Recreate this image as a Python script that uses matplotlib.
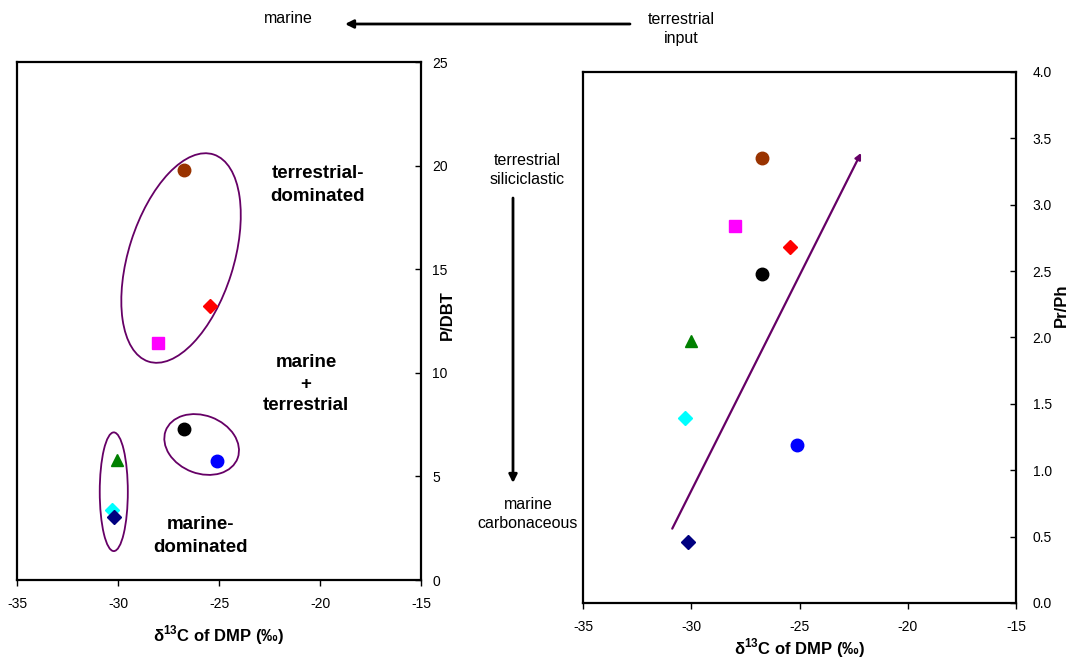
import matplotlib
matplotlib.use('Agg')
import matplotlib.pyplot as plt
from matplotlib.patches import Ellipse, FancyArrowPatch

plt.rcParams['font.family'] = ['Liberation Sans', 'DejaVu Sans']
plt.rcParams['axes.unicode_minus'] = False
plt.rcParams['mathtext.fontset'] = 'custom'
plt.rcParams['mathtext.rm'] = 'Liberation Sans:bold'
plt.rcParams['mathtext.bf'] = 'Liberation Sans:bold'

# samples: colour / marker, same order in both panels
colors = ['#993300', '#FF0000', '#FF00FF', '#000000', '#0000FF', '#008000', '#00FFFF', '#000080']
markers = ['o', 'D', 's', 'o', 'o', '^', 'D', 'D']
d13c_left = [-26.73, -25.45, -28.02, -26.72, -25.10, -30.03, -30.28, -30.18]
p_dbt = [19.79, 13.22, 11.44, 7.30, 5.73, 5.79, 3.36, 3.06]
d13c_right = [-26.73, -25.44, -27.98, -26.73, -25.12, -30.01, -30.29, -30.17]
pr_ph = [3.35, 2.68, 2.84, 2.48, 1.19, 1.97, 1.39, 0.46]

# grouping ellipses on left panel: centre x, centre y, width, height, angle
ell_cx = [-26.88, -25.86, -30.21]
ell_cy = [15.54, 6.54, 4.26]
ell_w = [10.5, 3.8, 1.39]
ell_h = [5.2, 2.8, 5.73]
ell_ang = [72, -20, 0]

# trend arrow on right panel
trend_x = [-30.88, -22.16]
trend_y = [0.56, 3.39]

purple = '#660066'

fig = plt.figure(figsize=(10.71, 6.64), dpi=100)
ax1 = fig.add_axes([0.0159, 0.1265, 0.3772, 0.7801])
ax2 = fig.add_axes([0.5444, 0.0919, 0.4043, 0.7997])

for ax in (ax1, ax2):
    ax.set_xlim(-35, -15)
    ax.set_xticks(range(-35, -14, 5))
    ax.yaxis.tick_right()
    ax.tick_params(axis='x', direction='out', length=4, width=1, labelsize=10, pad=8)
    ax.tick_params(axis='y', direction='in', length=4, width=1, labelsize=10)
    for s in ax.spines.values():
        s.set_linewidth(1.6)

# left panel
ax1.set_ylim(0, 25)
ax1.set_yticks(range(0, 26, 5))
ax1.tick_params(axis='y', pad=8)
for i in range(len(p_dbt)):
    ax1.plot(d13c_left[i], p_dbt[i], marker=markers[i], color=colors[i],
             ms=9 if markers[i] != 'D' else 7.5, ls='none', zorder=3)
for i in range(len(ell_cx)):
    ax1.add_patch(Ellipse((ell_cx[i], ell_cy[i]), ell_w[i], ell_h[i], angle=ell_ang[i],
                          fill=False, ec=purple, lw=1.3))
ax1.set_xlabel(r'δ$^{13}$C of DMP (‰)', fontsize=12, fontweight='bold', labelpad=9)
ax1.set_ylabel('P/DBT', fontsize=12, fontweight='bold')
ax1.yaxis.set_label_position('right')
ax1.yaxis.set_label_coords(1.047, 0.512)
ax1.text(0.745, 0.763, 'terrestrial-\ndominated', transform=ax1.transAxes, ha='center',
         va='center', fontsize=13.5, fontweight='bold', linespacing=1.45)
ax1.text(0.715, 0.378, 'marine\n+\nterrestrial', transform=ax1.transAxes, ha='center',
         va='center', fontsize=13.5, fontweight='bold', linespacing=1.35)
ax1.text(0.453, 0.085, 'marine-\ndominated', transform=ax1.transAxes, ha='center',
         va='center', fontsize=13.5, fontweight='bold', linespacing=1.45)

# right panel
ax2.set_ylim(0, 4)
ax2.set_yticks([i * 0.5 for i in range(9)])
ax2.set_yticklabels(['%.1f' % (i * 0.5) for i in range(9)])
ax2.tick_params(axis='y', pad=12)
for i in range(len(pr_ph)):
    ax2.plot(d13c_right[i], pr_ph[i], marker=markers[i], color=colors[i],
             ms=9 if markers[i] != 'D' else 7.5, ls='none', zorder=3)
ax2.annotate('', xy=(trend_x[1], trend_y[1]), xytext=(trend_x[0], trend_y[0]),
             arrowprops=dict(arrowstyle='-|>', color=purple, lw=1.6, mutation_scale=9,
                             shrinkA=0, shrinkB=0))
ax2.set_xlabel(r'δ$^{13}$C of DMP (‰)', fontsize=12, fontweight='bold', labelpad=2)
ax2.set_ylabel('Pr/Ph', fontsize=12, fontweight='bold')
ax2.yaxis.set_label_position('right')
ax2.yaxis.set_label_coords(1.088, 0.560)

# annotations between/above the panels
fig.text(0.2689, 0.9714, 'marine', ha='center', va='center', fontsize=11.5)
fig.text(0.6359, 0.956, 'terrestrial\ninput', ha='center', va='center', fontsize=11.5,
         linespacing=1.35)
fig.add_artist(FancyArrowPatch((630 / 1071, 640 / 664), (345 / 1071, 640 / 664),
                               transform=fig.transFigure, arrowstyle='-|>', color='black',
                               lw=2, mutation_scale=12, shrinkA=0, shrinkB=0))
fig.text(0.492, 0.744, 'terrestrial\nsiliciclastic', ha='center', va='center', fontsize=11.5,
         linespacing=1.35)
fig.text(0.493, 0.226, 'marine\ncarbonaceous', ha='center', va='center', fontsize=11.5,
         linespacing=1.35)
fig.add_artist(FancyArrowPatch((513 / 1071, 0.7018), (513 / 1071, 0.2726),
                               transform=fig.transFigure, arrowstyle='-|>', color='black',
                               lw=2, mutation_scale=12, shrinkA=0, shrinkB=0))

fig.savefig('out.png', dpi=100)
